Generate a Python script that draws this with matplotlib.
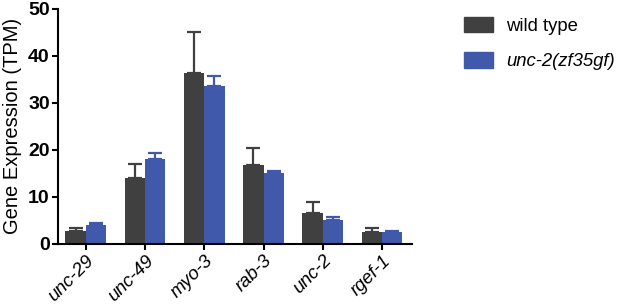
import matplotlib
matplotlib.use('Agg')
import matplotlib.pyplot as plt
from matplotlib.patches import Patch
import numpy as np

plt.rcParams['font.family'] = ['Liberation Sans', 'DejaVu Sans']

genes = ['unc-29', 'unc-49', 'myo-3', 'rab-3', 'unc-2', 'rgef-1']
wt_mean = [2.8, 14.1, 36.4, 16.7, 6.5, 2.6]
wt_err = [0.6, 2.9, 8.6, 3.6, 2.5, 0.8]
mut_mean = [4.0, 18.0, 33.5, 15.0, 5.0, 2.5]
mut_err = [0.5, 1.4, 2.3, 0.5, 0.8, 0.2]

dark = '#404040'
blue = '#4059ab'

fig = plt.figure(figsize=(6.17, 3.06), dpi=100)
ax = fig.add_axes([0.094, 0.203, 0.574, 0.768])

x = np.arange(len(genes))
w = 0.345
ax.bar(x - w / 2, wt_mean, w, color=dark, yerr=[np.zeros(len(genes)), wt_err],
       error_kw=dict(ecolor=dark, capsize=5, elinewidth=1.6, capthick=1.6))
ax.bar(x + w / 2, mut_mean, w, color=blue, yerr=[np.zeros(len(genes)), mut_err],
       error_kw=dict(ecolor=blue, capsize=5, elinewidth=1.6, capthick=1.6))

ax.set_xlim(-0.47, 5.51)
ax.set_ylim(0, 50)
ax.set_yticks([0, 10, 20, 30, 40, 50])
for lbl in ax.get_yticklabels():
    lbl.set_fontweight('bold')
    lbl.set_fontsize(14)
ax.set_xticks(x)
ax.set_xticklabels(genes, rotation=45, ha='right', rotation_mode='anchor',
                   fontstyle='italic', fontsize=13.5)
ax.set_ylabel('Gene Expression (TPM)', fontsize=14.5, labelpad=4)
ax.spines['top'].set_visible(False)
ax.spines['right'].set_visible(False)
ax.spines['left'].set_linewidth(1.5)
ax.spines['bottom'].set_linewidth(1.5)
ax.tick_params(axis='both', direction='out', width=1.5, length=4, pad=2)

handles = [Patch(color=dark, label='wild type'), Patch(color=blue, label='unc-2(zf35gf)')]
leg = fig.legend(handles=handles, loc='upper left', bbox_to_anchor=(0.752, 0.945),
                 frameon=False, fontsize=13.3, handlelength=1.55, handleheight=0.9,
                 labelspacing=0.95, handletextpad=0.72, borderpad=0, borderaxespad=0)
leg.get_texts()[1].set_fontstyle('italic')

fig.savefig('out.png', dpi=100)
